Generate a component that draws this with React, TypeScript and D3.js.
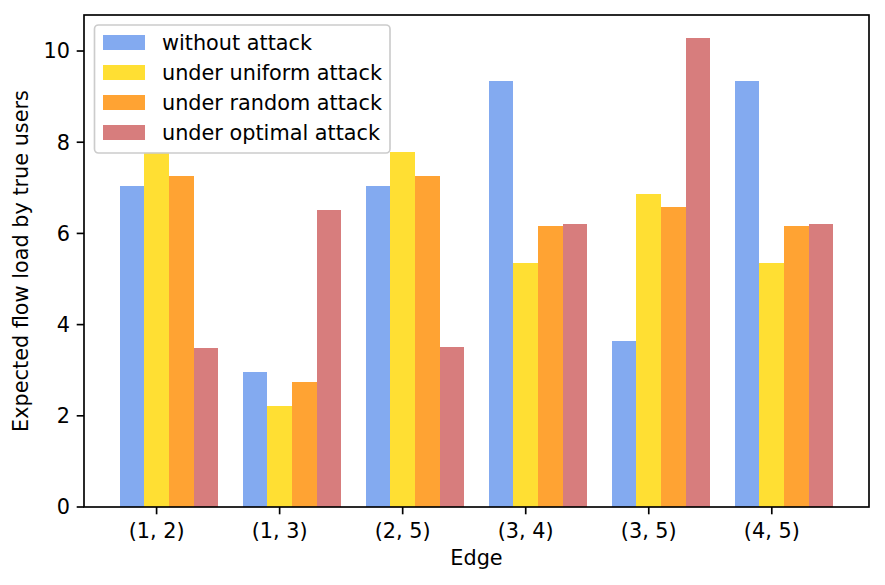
import { scaleLinear } from "d3";

const edges = ["(1, 2)", "(1, 3)", "(2, 5)", "(3, 4)", "(3, 5)", "(4, 5)"];
const seriesNames = [
  "without attack",
  "under uniform attack",
  "under random attack",
  "under optimal attack",
];
const withoutAttack = [7.04, 2.96, 7.04, 9.34, 3.64, 9.34];
const uniformAttack = [7.79, 2.21, 7.79, 5.35, 6.86, 5.35];
const randomAttack = [7.26, 2.74, 7.26, 6.16, 6.58, 6.16];
const optimalAttack = [3.49, 6.51, 3.51, 6.21, 10.28, 6.21];
const yTicks = [0, 2, 4, 6, 8, 10];

const series = [withoutAttack, uniformAttack, randomAttack, optimalAttack];
// cornflowerblue, gold, darkorange, indianred at alpha 0.8
const colors = ["#83aaf0", "#ffdf33", "#ffa333", "#d77d7d"];

const W = 885;
const H = 585;
const left = 84;
const right = 869;
const top = 15;
const bottom = 507;
const font = "'DejaVu Sans', sans-serif";
const fs = 20.8;
const tickLen = 7.3;
const lw = 1.67;
const barW = 0.2;

export default function App() {
  const x = scaleLinear().domain([-0.59, 5.79]).range([left, right]);
  const y = scaleLinear().domain([0, 10.79]).range([bottom, top]);

  return (
    <svg
      width={W}
      height={H}
      style={{ position: "absolute", left: 0, top: 0, background: "#fff" }}
      fontFamily={font}
      fontSize={fs}
    >
      {/* bars */}
      {series.map((vals, k) =>
        vals.map((v, i) => {
          const c = i + (k - 1) * barW;
          return (
            <rect
              key={`${k}-${i}`}
              x={x(c - barW / 2)}
              width={x(c + barW / 2) - x(c - barW / 2)}
              y={y(v)}
              height={y(0) - y(v)}
              fill={colors[k]}
              shapeRendering="crispEdges"
            />
          );
        })
      )}

      {/* y axis ticks */}
      {yTicks.map((t) => (
        <g key={t}>
          <line x1={left - tickLen} x2={left} y1={y(t)} y2={y(t)} stroke="#000" strokeWidth={lw} />
          <text x={left - 2 * tickLen + 0.5} y={y(t) + 7.4} textAnchor="end">
            {t}
          </text>
        </g>
      ))}

      {/* x axis ticks */}
      {edges.map((e, i) => (
        <g key={e}>
          <line x1={x(i)} x2={x(i)} y1={bottom} y2={bottom + tickLen} stroke="#000" strokeWidth={lw} />
          <text x={x(i)} y={538} textAnchor="middle">
            {e}
          </text>
        </g>
      ))}

      {/* frame */}
      <rect
        x={left}
        y={top}
        width={right - left}
        height={bottom - top}
        fill="none"
        stroke="#000"
        strokeWidth={lw}
      />

      {/* axis labels */}
      <text x={(left + right) / 2} y={565} textAnchor="middle">
        Edge
      </text>
      <text
        transform={`translate(28, ${(top + bottom) / 2}) rotate(-90)`}
        textAnchor="middle"
      >
        Expected flow load by true users
      </text>

      {/* legend */}
      <rect
        x={94.5}
        y={25}
        width={295.5}
        height={128}
        rx={4}
        fill="#fff"
        fillOpacity={0.8}
        stroke="#cccccc"
        strokeWidth={lw}
      />
      {seriesNames.map((name, k) => {
        const cy = 43 + k * 30;
        return (
          <g key={name}>
            <rect x={103} y={cy - 8} width={42} height={15} fill={colors[k]} />
            <text x={162} y={cy + 7}>
              {name}
            </text>
          </g>
        );
      })}
    </svg>
  );
}
